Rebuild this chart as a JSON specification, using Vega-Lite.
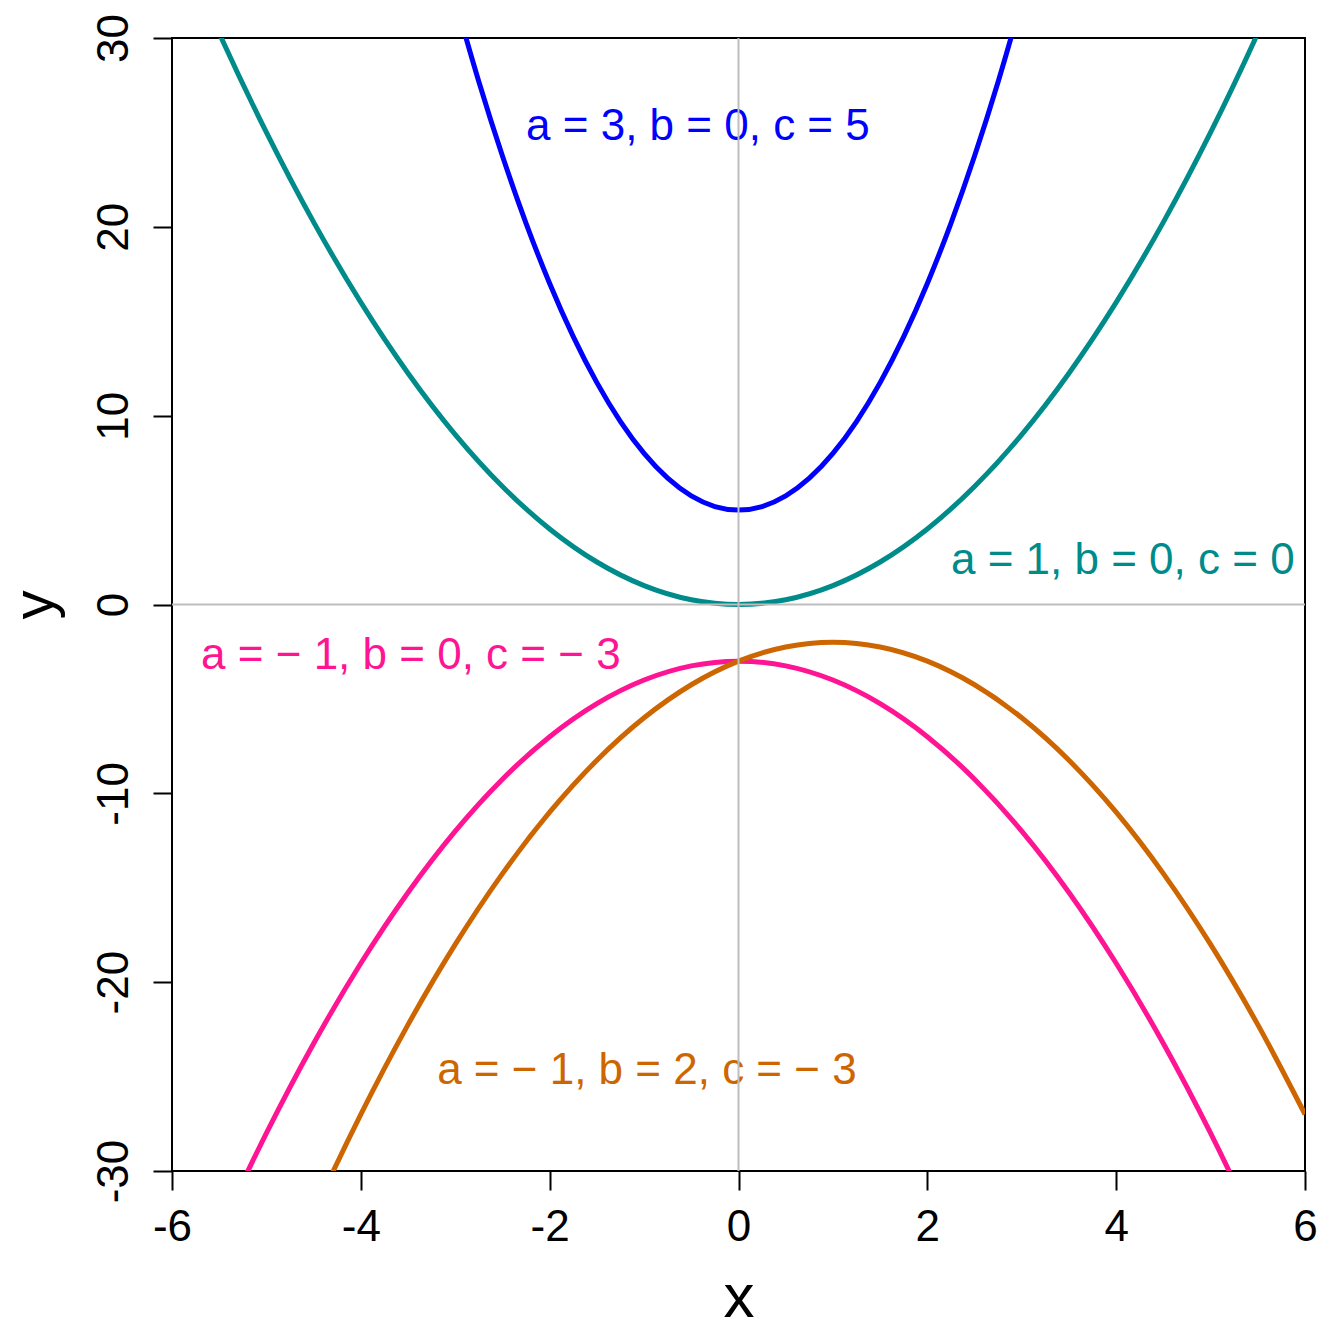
{
  "$schema": "https://vega.github.io/schema/vega-lite/v6.json",
  "width": 1133,
  "height": 1133,
  "autosize": "none",
  "padding": {"left": 172, "top": 38, "right": 39, "bottom": 173},
  "background": "white",
  "config": {
    "view": {"stroke": "black", "strokeWidth": 2},
    "font": "Liberation Sans",
    "axis": {"grid": false, "domain": false, "tickColor": "black", "tickWidth": 2, "tickSize": 19, "labelFont": "Liberation Sans", "labelFontSize": 44, "labelColor": "black", "titleFont": "Liberation Sans", "titleFontSize": 62, "titleFontWeight": "normal", "titleColor": "black"}
  },
  "datasets": {
    "curves": [
      {"curve": "blue", "x": -3, "y": 32},
      {"curve": "blue", "x": -2.75, "y": 27.6875},
      {"curve": "blue", "x": -2.5, "y": 23.75},
      {"curve": "blue", "x": -2.25, "y": 20.1875},
      {"curve": "blue", "x": -2, "y": 17},
      {"curve": "blue", "x": -1.75, "y": 14.1875},
      {"curve": "blue", "x": -1.5, "y": 11.75},
      {"curve": "blue", "x": -1.25, "y": 9.6875},
      {"curve": "blue", "x": -1, "y": 8},
      {"curve": "blue", "x": -0.75, "y": 6.6875},
      {"curve": "blue", "x": -0.5, "y": 5.75},
      {"curve": "blue", "x": -0.25, "y": 5.1875},
      {"curve": "blue", "x": 0, "y": 5},
      {"curve": "blue", "x": 0.25, "y": 5.1875},
      {"curve": "blue", "x": 0.5, "y": 5.75},
      {"curve": "blue", "x": 0.75, "y": 6.6875},
      {"curve": "blue", "x": 1, "y": 8},
      {"curve": "blue", "x": 1.25, "y": 9.6875},
      {"curve": "blue", "x": 1.5, "y": 11.75},
      {"curve": "blue", "x": 1.75, "y": 14.1875},
      {"curve": "blue", "x": 2, "y": 17},
      {"curve": "blue", "x": 2.25, "y": 20.1875},
      {"curve": "blue", "x": 2.5, "y": 23.75},
      {"curve": "blue", "x": 2.75, "y": 27.6875},
      {"curve": "blue", "x": 3, "y": 32},

      {"curve": "teal", "x": -6, "y": 36},
      {"curve": "teal", "x": -5.5, "y": 30.25},
      {"curve": "teal", "x": -5, "y": 25},
      {"curve": "teal", "x": -4.5, "y": 20.25},
      {"curve": "teal", "x": -4, "y": 16},
      {"curve": "teal", "x": -3.5, "y": 12.25},
      {"curve": "teal", "x": -3, "y": 9},
      {"curve": "teal", "x": -2.5, "y": 6.25},
      {"curve": "teal", "x": -2, "y": 4},
      {"curve": "teal", "x": -1.5, "y": 2.25},
      {"curve": "teal", "x": -1, "y": 1},
      {"curve": "teal", "x": -0.5, "y": 0.25},
      {"curve": "teal", "x": 0, "y": 0},
      {"curve": "teal", "x": 0.5, "y": 0.25},
      {"curve": "teal", "x": 1, "y": 1},
      {"curve": "teal", "x": 1.5, "y": 2.25},
      {"curve": "teal", "x": 2, "y": 4},
      {"curve": "teal", "x": 2.5, "y": 6.25},
      {"curve": "teal", "x": 3, "y": 9},
      {"curve": "teal", "x": 3.5, "y": 12.25},
      {"curve": "teal", "x": 4, "y": 16},
      {"curve": "teal", "x": 4.5, "y": 20.25},
      {"curve": "teal", "x": 5, "y": 25},
      {"curve": "teal", "x": 5.5, "y": 30.25},
      {"curve": "teal", "x": 6, "y": 36},

      {"curve": "pink", "x": -6, "y": -39},
      {"curve": "pink", "x": -5.5, "y": -33.25},
      {"curve": "pink", "x": -5, "y": -28},
      {"curve": "pink", "x": -4.5, "y": -23.25},
      {"curve": "pink", "x": -4, "y": -19},
      {"curve": "pink", "x": -3.5, "y": -15.25},
      {"curve": "pink", "x": -3, "y": -12},
      {"curve": "pink", "x": -2.5, "y": -9.25},
      {"curve": "pink", "x": -2, "y": -7},
      {"curve": "pink", "x": -1.5, "y": -5.25},
      {"curve": "pink", "x": -1, "y": -4},
      {"curve": "pink", "x": -0.5, "y": -3.25},
      {"curve": "pink", "x": 0, "y": -3},
      {"curve": "pink", "x": 0.5, "y": -3.25},
      {"curve": "pink", "x": 1, "y": -4},
      {"curve": "pink", "x": 1.5, "y": -5.25},
      {"curve": "pink", "x": 2, "y": -7},
      {"curve": "pink", "x": 2.5, "y": -9.25},
      {"curve": "pink", "x": 3, "y": -12},
      {"curve": "pink", "x": 3.5, "y": -15.25},
      {"curve": "pink", "x": 4, "y": -19},
      {"curve": "pink", "x": 4.5, "y": -23.25},
      {"curve": "pink", "x": 5, "y": -28},
      {"curve": "pink", "x": 5.5, "y": -33.25},
      {"curve": "pink", "x": 6, "y": -39},

      {"curve": "orange", "x": -5, "y": -38},
      {"curve": "orange", "x": -4.5, "y": -32.25},
      {"curve": "orange", "x": -4, "y": -27},
      {"curve": "orange", "x": -3.5, "y": -22.25},
      {"curve": "orange", "x": -3, "y": -18},
      {"curve": "orange", "x": -2.5, "y": -14.25},
      {"curve": "orange", "x": -2, "y": -11},
      {"curve": "orange", "x": -1.5, "y": -8.25},
      {"curve": "orange", "x": -1, "y": -6},
      {"curve": "orange", "x": -0.5, "y": -4.25},
      {"curve": "orange", "x": 0, "y": -3},
      {"curve": "orange", "x": 0.5, "y": -2.25},
      {"curve": "orange", "x": 1, "y": -2},
      {"curve": "orange", "x": 1.5, "y": -2.25},
      {"curve": "orange", "x": 2, "y": -3},
      {"curve": "orange", "x": 2.5, "y": -4.25},
      {"curve": "orange", "x": 3, "y": -6},
      {"curve": "orange", "x": 3.5, "y": -8.25},
      {"curve": "orange", "x": 4, "y": -11},
      {"curve": "orange", "x": 4.5, "y": -14.25},
      {"curve": "orange", "x": 5, "y": -18},
      {"curve": "orange", "x": 5.5, "y": -22.25},
      {"curve": "orange", "x": 6, "y": -27}
    ],
    "labels": [
      {"curve": "blue", "x": -0.43, "y": 25.3, "label": "a = 3, b = 0, c = 5"},
      {"curve": "teal", "x": 4.07, "y": 2.3, "label": "a = 1, b = 0, c = 0"},
      {"curve": "pink", "x": -3.47, "y": -2.73, "label": "a =  − 1, b = 0, c =  − 3"},
      {"curve": "orange", "x": -0.97, "y": -24.7, "label": "a =  − 1, b = 2, c =  − 3"}
    ],
    "zero": [{"v": 0}]
  },
  "layer": [
    {
      "data": {"name": "curves"},
      "mark": {"type": "line", "clip": true, "interpolate": "monotone", "strokeWidth": 5},
      "encoding": {
        "x": {"field": "x", "type": "quantitative", "scale": {"domain": [-6, 6], "nice": false, "zero": false},
          "axis": {"title": "x", "values": [-6, -4, -2, 0, 2, 4, 6], "labelExpr": "'' + datum.value", "labelBaseline": "alphabetic", "labelPadding": 50, "labelFlush": false, "titleY": 145, "titleBaseline": "alphabetic"}},
        "y": {"field": "y", "type": "quantitative", "scale": {"domain": [-30, 30], "nice": false, "zero": false},
          "axis": {"title": "y", "values": [-30, -20, -10, 0, 10, 20, 30], "labelExpr": "'' + datum.value", "labelAngle": -90, "labelAlign": "center", "labelBaseline": "alphabetic", "labelPadding": 26, "labelFlush": false, "titleX": -108, "titleFontSize": 58, "titleBaseline": "bottom"}},
        "color": {"field": "curve", "type": "nominal", "legend": null,
          "scale": {"domain": ["blue", "teal", "pink", "orange"], "range": ["#0000FF", "#008B8B", "#FF1493", "#CD6600"]}},
        "detail": {"field": "curve"}
      }
    },
    {
      "data": {"name": "labels"},
      "mark": {"type": "text", "fontSize": 44, "font": "Liberation Sans", "align": "center", "baseline": "middle"},
      "encoding": {
        "x": {"field": "x", "type": "quantitative"},
        "y": {"field": "y", "type": "quantitative"},
        "text": {"field": "label"},
        "color": {"field": "curve", "type": "nominal", "legend": null}
      }
    },
    {
      "data": {"name": "zero"},
      "mark": {"type": "rule", "color": "#BEBEBE", "strokeWidth": 2},
      "encoding": {"x": {"field": "v", "type": "quantitative"}}
    },
    {
      "data": {"name": "zero"},
      "mark": {"type": "rule", "color": "#BEBEBE", "strokeWidth": 2},
      "encoding": {"y": {"field": "v", "type": "quantitative"}}
    }
  ]
}
